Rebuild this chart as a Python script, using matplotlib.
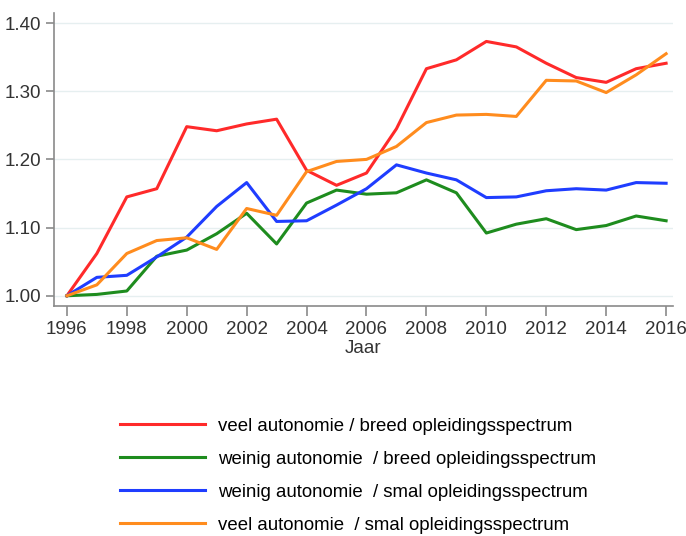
import matplotlib
matplotlib.use("Agg")
import matplotlib.pyplot as plt
import numpy as np

years = list(range(1996, 2017))
veel_breed = [1.000, 1.062, 1.145, 1.157, 1.248, 1.242, 1.252, 1.259, 1.184, 1.162,
              1.180, 1.245, 1.333, 1.346, 1.373, 1.365, 1.341, 1.320, 1.313, 1.333, 1.341]
weinig_breed = [1.000, 1.002, 1.007, 1.058, 1.067, 1.091, 1.121, 1.076, 1.136, 1.155,
                1.149, 1.151, 1.170, 1.151, 1.092, 1.105, 1.113, 1.097, 1.103, 1.117, 1.110]
weinig_smal = [1.000, 1.027, 1.030, 1.057, 1.086, 1.131, 1.166, 1.109, 1.110, 1.133,
               1.157, 1.192, 1.180, 1.170, 1.144, 1.145, 1.154, 1.157, 1.155, 1.166, 1.165]
veel_smal = [1.000, 1.016, 1.062, 1.081, 1.085, 1.068, 1.128, 1.118, 1.182, 1.197,
             1.200, 1.219, 1.254, 1.265, 1.266, 1.263, 1.316, 1.315, 1.298, 1.324, 1.355]

labels = ["veel autonomie / breed opleidingsspectrum",
          "weinig autonomie  / breed opleidingsspectrum",
          "weinig autonomie  / smal opleidingsspectrum",
          "veel autonomie  / smal opleidingsspectrum"]
series = [veel_breed, weinig_breed, weinig_smal, veel_smal]
colors = ["#ff2a2a", "#1e8c1e", "#1f3dff", "#ff8c1e"]

yticks = [1.00, 1.10, 1.20, 1.30, 1.40]
xticks = list(range(1996, 2017, 2))

plt.rcParams['font.family'] = ['Liberation Sans', 'DejaVu Sans']

fig = plt.figure(figsize=(6.86, 5.36), dpi=100)
ax = fig.add_axes([54/686, 1-306/536, (673-54)/686, (306-13)/536])

lines = []
for vals, c, lab in zip(series, colors, labels):
    l, = ax.plot(years, vals, color=c, lw=2.2, label=lab, solid_joinstyle='round')
    lines.append(l)

ax.set_xlim(1995.57, 2016.23)
ax.set_ylim(0.985, 1.4147)
ax.set_yticks(yticks)
ax.set_yticklabels([f"{v:.2f}" for v in yticks])
ax.set_xticks(xticks)
ax.grid(axis='y', color='#e6eff0', lw=1.0)
ax.set_axisbelow(True)
for s in ['top', 'right']:
    ax.spines[s].set_visible(False)
for s in ['left', 'bottom']:
    ax.spines[s].set_color('#8a8a8a')
    ax.spines[s].set_linewidth(1.2)
ax.tick_params(axis='both', colors='#8a8a8a', labelcolor='#333333', labelsize=13.5,
               width=1.2, direction='out')
ax.tick_params(axis='y', length=6, pad=3)
ax.tick_params(axis='x', length=7, pad=4)
ax.set_xlabel("Jaar", fontsize=13.5, color='#333333', labelpad=1)

fig.legend(handles=lines, labels=labels, loc='upper left',
           bbox_to_anchor=(103/686, 1-401/536), frameon=False, fontsize=13.4,
           handlelength=4.6, handletextpad=0.7, labelspacing=0.86)

fig.savefig("out.png", dpi=100)
